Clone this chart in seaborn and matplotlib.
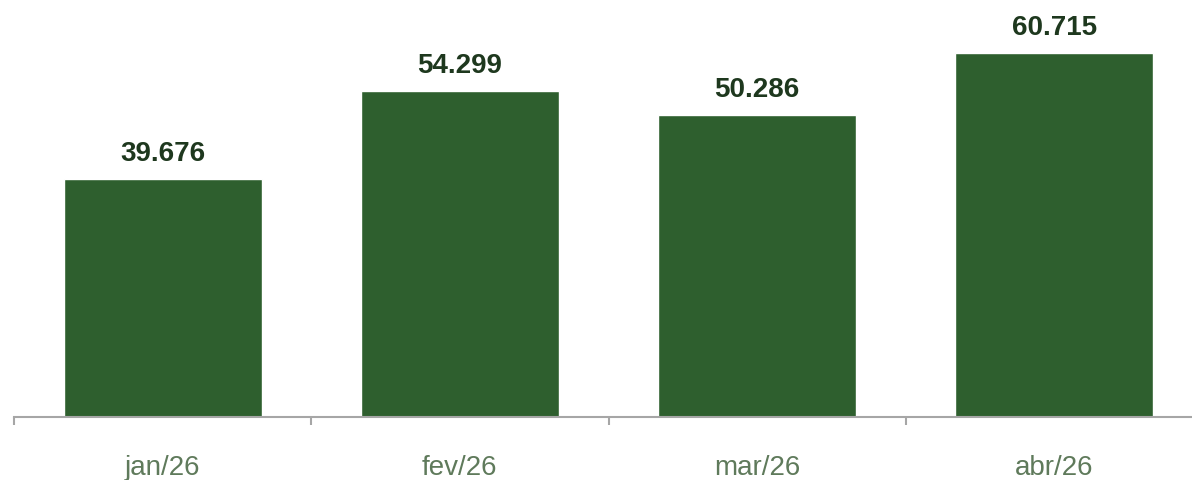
import seaborn as sns
import pandas as pd
import matplotlib.pyplot as plt

meses = ['jan/26', 'fev/26', 'mar/26', 'abr/26']
valores = [39.676, 54.299, 50.286, 60.715]
rotulos = ['39.676', '54.299', '50.286', '60.715']


def main():
    sns.set_style('white')
    plt.rcParams['font.family'] = ['Liberation Sans', 'DejaVu Sans']

    df = pd.DataFrame({'mes': meses, 'valor': valores})

    fig = plt.figure(figsize=(11.92, 4.81), dpi=100)
    # axes runs a bit past the right edge, like the original
    ax = fig.add_axes([14 / 1192, 63 / 481, 1189 / 1192, 418 / 481])

    sns.barplot(data=df, x='mes', y='valor', color='#2e5f2e',
                saturation=1, width=0.666, ax=ax)

    for i, v in enumerate(valores):
        ax.text(i, v + 2.2, rotulos[i], ha='center', va='bottom',
                fontsize=20, fontweight='bold', color='#1e381e')

    ax.set_xlim(-0.5, 3.5)
    ax.set_ylim(0, 69.7)

    for s in ['top', 'left', 'right']:
        ax.spines[s].set_visible(False)
    ax.spines['bottom'].set_color('#a6a6a6')
    ax.spines['bottom'].set_linewidth(1.5)

    # boundary ticks as major, labels on minor ticks at the centres
    ax.set_xticks([-0.5, 0.5, 1.5, 2.5, 3.5])
    ax.set_xticklabels([])
    ax.tick_params(axis='x', which='major', length=6, width=1.5,
                   color='#a6a6a6', direction='out', bottom=True)
    ax.set_xticks(range(len(meses)), minor=True)
    ax.set_xticklabels(meses, minor=True)
    ax.tick_params(axis='x', which='minor', length=0, pad=27,
                   labelsize=20, labelcolor='#5f7a5b')
    ax.set_yticks([])
    ax.set_xlabel('')
    ax.set_ylabel('')

    fig.savefig('out.png', dpi=100)


if __name__ == "__main__":
    main()
